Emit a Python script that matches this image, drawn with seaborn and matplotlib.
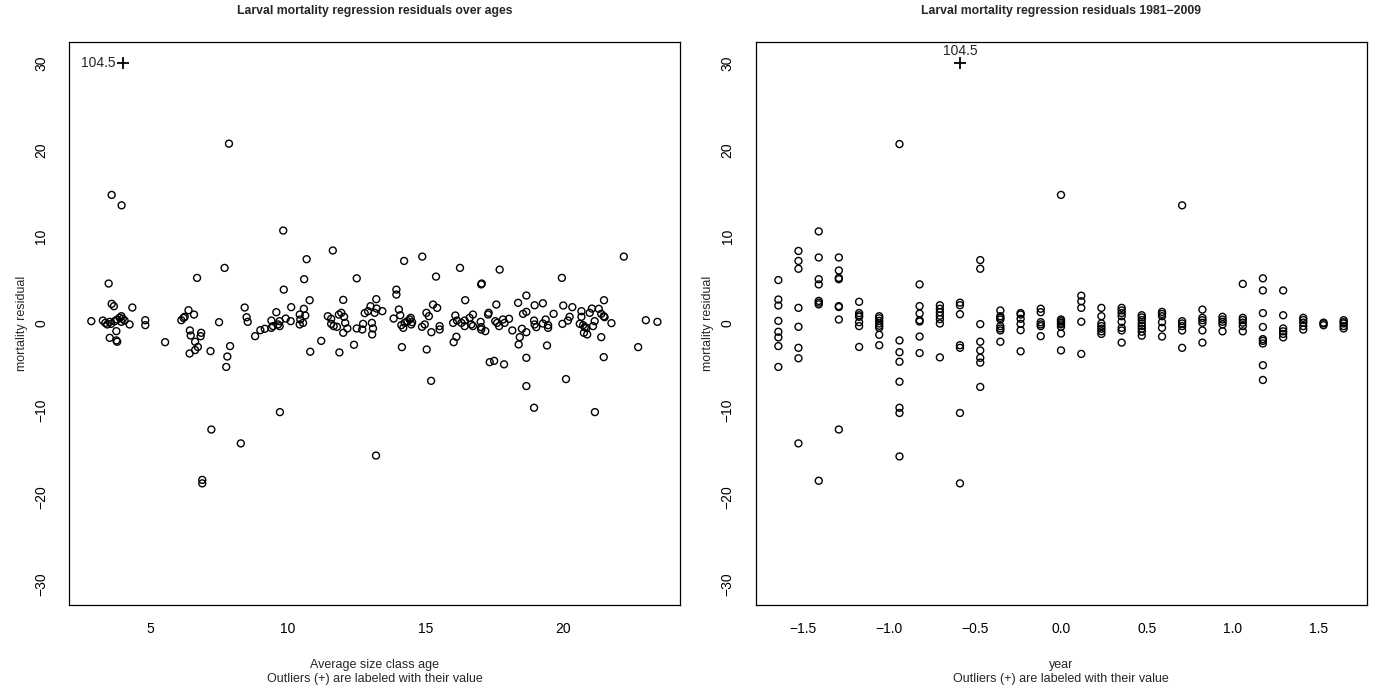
"""Larval mortality regression residuals against age and year."""

import matplotlib

matplotlib.use("Agg")
import matplotlib.pyplot as plt
import pandas as pd
import seaborn as sns

# ---- left panel: residual vs average size class age ----
age_x = [
    7.86, 3.60, 3.96, 9.83, 11.63, 10.68, 7.70, 10.59, 6.70, 12.50, 3.49,
    14.22, 14.88, 16.25, 17.69, 22.20, 15.38, 19.95, 17.04, 17.02,
    9.71, 7.22, 8.29, 6.89, 6.89, 13.20, 15.20, 18.66, 18.94, 20.10, 21.15,
    7.76, 17.85,
    3.60, 3.68, 4.35, 2.86, 3.28, 3.37, 3.44, 3.53, 3.58, 3.71, 3.80, 3.89,
    3.95, 4.00, 4.07, 3.95, 4.25, 3.77, 3.53, 3.77, 3.80,
    4.82, 4.82, 5.54, 6.13, 6.21, 6.25, 6.39, 6.59, 6.44, 6.47, 6.63, 6.85,
    6.83, 6.73, 6.63, 6.43, 7.19, 7.50, 7.90, 7.80, 8.43, 8.50, 8.54, 8.81,
    9.00, 9.16,
    9.85, 13.94, 13.94, 10.79, 12.01, 13.21, 16.44,
    9.58, 9.40, 9.46, 9.40, 9.70, 9.70, 9.64, 9.92, 10.10, 10.12,
    10.43, 10.45, 10.43, 10.55, 10.58, 10.63,
    10.81, 11.21,
    11.45, 11.57, 11.57, 11.66, 11.78, 11.85, 11.94, 12.04, 12.08, 12.16, 12.01,
    11.87, 12.40,
    12.50, 12.70, 12.73, 12.79, 12.91, 13.00, 13.05, 13.09, 13.06, 13.15, 13.22,
    13.43,
    13.84, 14.03, 14.08, 14.12, 14.19, 14.24, 14.34, 14.42, 14.46, 14.48, 14.51,
    14.14,
    14.87, 14.97, 15.03, 15.12, 15.21, 15.27, 15.42, 15.51, 15.51, 15.04,
    16.00, 16.08, 16.14, 16.12, 16.02, 16.30, 16.42, 16.42,
    18.66, 21.48,
    16.60, 16.66, 16.72, 16.72, 17.00, 17.02, 17.17, 17.02, 17.27, 17.29, 17.57,
    17.53, 17.60, 17.67, 17.81, 17.87, 18.03, 18.15,
    18.36, 18.54, 18.66, 18.50, 18.66, 18.42, 18.38, 18.66,
    18.96, 18.94, 18.96, 19.02, 19.26, 19.26, 19.36, 19.45, 19.45, 19.41, 19.65,
    19.97, 20.00, 20.17, 20.23, 20.33, 20.60, 20.66, 20.66, 20.72, 20.78, 20.75,
    20.87, 20.84, 20.96, 21.04, 21.08, 21.14, 21.29, 21.38, 21.47, 21.50, 21.75,
    21.38, 22.72, 23.00, 23.42, 21.47, 17.33, 17.49,
]
age_resid = [
    20.7, 14.8, 13.6, 10.7, 8.4, 7.4, 6.4, 5.1, 5.25, 5.2, 4.6,
    7.2, 7.7, 6.4, 6.2, 7.7, 5.4, 5.25, 4.6, 4.5,
    -10.2, -12.2, -13.8, -18.0, -18.4, -15.2, -6.6, -7.2, -9.7, -6.4, -10.2,
    -5.0, -4.7,
    2.26, 1.99, 1.84, 0.27, 0.34, 0.07, -0.11, 0.19, -0.04, 0.27, 0.46, 0.65,
    0.84, 0.54, 0.34, 0.19, -0.11, -0.88, -1.65, -1.95, -2.1,
    0.38, -0.19, -2.15, 0.38, 0.65, 0.77, 1.53, 1.03, -0.8, -1.38, -2.1, -1.07,
    -1.46, -2.7, -3.06, -3.45, -3.18, 0.15, -2.6, -3.8, 1.84, 0.72, 0.19, -1.46,
    -0.77, -0.61,
    3.9, 3.9, 3.33, 2.68, 2.72, 2.8, 2.68,
    1.3, 0.34, -0.3, -0.5, 0.27, -0.3, -0.11, 0.57, 0.27, 1.88,
    1.03, 0.46, -0.11, 0.07, 1.69, 0.92,
    -3.25, -2.0,
    0.84, 0.54, -0.04, -0.3, -0.38, 1.03, 1.23, 0.77, 0.07, -0.57, -1.07,
    -3.33, -2.45,
    -0.57, -0.69, -0.04, 1.19, 1.42, 1.99, 0.07, -0.57, -1.26, 1.23, 1.72,
    1.42,
    0.57, 1.61, 0.95, -0.19, -0.5, 0.07, 0.27, 0.46, 0.65, -0.11, 0.15,
    -2.72,
    -0.38, -0.11, 1.23, 0.84, -1.0, 2.18, 1.8, -0.3, -0.69, -2.99,
    0.07, 0.92, 0.34, -1.53, -2.15, 0.07, 0.34, -0.3,
    3.22, 2.68,
    0.65, -0.11, 1.03, -0.3, 0.19, -0.42, -0.88, -0.69, 1.03, 1.23, 2.18,
    0.27, 0.07, -0.3, 0.46, 0.07, 0.54, -0.8,
    2.38, 1.11, 1.34, -0.61, -1.0, -1.57, -2.41, -3.95,
    2.1, 0.34, -0.11, -0.42, 2.33, 0.0, 0.46, -0.19, -0.5, -2.53, 1.11,
    -0.04, 2.07, 0.34, 0.77, 1.88, -0.04, 1.42, 0.77, -0.19, -0.42, -1.07,
    -1.26, -0.5, 1.23, 1.72, -0.3, 0.27, 1.69, 1.11, 0.84, 0.73, 0.04,
    -1.57, -2.72, 0.38, 0.19, -3.87, -4.45, -4.3,
]

# ---- right panel: residual vs standardised year (1981-2009) ----
year_pos = [
    -1.645, -1.528, -1.410, -1.293, -1.175, -1.058, -0.940, -0.823, -0.705,
    -0.588, -0.470, -0.353, -0.235, -0.118, 0.000, 0.118, 0.235, 0.353,
    0.470, 0.588, 0.705, 0.823, 0.940, 1.058, 1.175, 1.293, 1.410, 1.528,
    1.645,
]
year_resid = [
    [5.0, 2.76, 2.07, 0.3, -0.95, -1.6, -2.6, -5.0],
    [8.35, 7.2, 6.3, 1.8, -0.38, -2.8, -4.0, -13.8],
    [10.6, 7.6, 5.1, 4.5, 2.6, 2.4, 2.2, -18.1],
    [7.6, 6.1, 5.25, 5.1, 2.0, 1.9, 0.46, -12.2],
    [2.5, 1.2, 0.95, 0.77, 0.15, -0.3, -2.7],
    [0.84, 0.6, 0.3, 0.0, -0.26, -0.5, -1.3, -2.5],
    [20.65, -1.95, -3.3, -4.4, -6.7, -9.7, -10.3, -15.3],
    [4.5, 2.0, 1.15, 0.38, 0.23, -1.5, -3.4],
    [2.1, 1.7, 1.3, 0.9, 0.5, 0.0, -3.9],
    [2.4, 2.1, 1.07, -2.5, -2.8, -10.3, -18.4],
    [7.3, 6.3, -0.07, -2.1, -3.1, -3.95, -4.5, -7.3],
    [1.5, 0.84, 0.65, 0.46, -0.3, -0.57, -0.8, -2.1],
    [1.2, 1.03, 0.54, -0.04, -0.77, -3.2],
    [1.7, 1.3, 0.15, -0.1, -0.3, -1.46],
    [14.8, 0.46, 0.27, 0.08, -0.1, -0.38, -1.15, -3.1],
    [3.2, 2.56, 1.8, 0.2, -3.5],
    [1.8, 0.84, 0.0, -0.3, -0.6, -0.9, -1.2],
    [1.8, 1.5, 1.2, 0.84, 0.2, -0.5, -0.8, -2.2],
    [0.95, 0.7, 0.4, 0.0, -0.3, -0.6, -0.95, -1.4],
    [1.34, 1.1, 0.84, 0.15, -0.5, -1.5],
    [13.6, 0.27, 0.0, -0.3, -0.8, -2.8],
    [1.6, 0.65, 0.38, 0.08, -0.8, -2.2],
    [0.77, 0.46, 0.2, -0.1, -0.9],
    [4.56, 0.65, 0.4, 0.1, -0.3, -0.9],
    [5.2, 3.8, 1.2, -0.4, -1.8, -2.0, -2.3, -4.8, -6.5],
    [3.8, 0.95, -0.57, -0.9, -1.2, -1.6],
    [0.65, 0.4, 0.1, -0.3, -0.7],
    [0.1, 0.0, -0.2],
    [0.38, 0.15, 0.0, -0.3, -0.57],
]

# one residual above the axis limit, drawn as "+" at the cap and labelled
outlier_value = 104.5
outlier_cap = 30
outlier_age = 4.0
outlier_year = -0.588

age_ticks = [5, 10, 15, 20]
year_ticks = [-1.5, -1.0, -0.5, 0.0, 0.5, 1.0, 1.5]
resid_ticks = [-30, -20, -10, 0, 10, 20, 30]

sns.set_style("white")
plt.rcParams["font.family"] = ["Liberation Sans", "DejaVu Sans"]
plt.rcParams["axes.unicode_minus"] = True

age_df = pd.DataFrame({"age": age_x, "resid": age_resid})
year_df = pd.DataFrame(
    {
        "year": [p for p, col in zip(year_pos, year_resid) for _ in col],
        "resid": [r for col in year_resid for r in col],
    }
)

W, H = 1373, 691
fig = plt.figure(figsize=(W / 100, H / 100), dpi=100)
ax_age = fig.add_axes([69 / W, 1 - 605 / H, 611 / W, 563 / H])
ax_year = fig.add_axes([755.5 / W, 1 - 605 / H, 611 / W, 563 / H])


def draw_panel(ax, df, xcol, out_x, title, xlabel, xticks, xlim, label_pos):
    sns.scatterplot(
        data=df, x=xcol, y="resid", ax=ax, marker="o", s=25,
        facecolor="none", edgecolor="black", linewidth=1.0, legend=False,
    )
    ax.collections[-1].set_facecolor("none")
    ax.collections[-1].set_edgecolor("black")
    sns.scatterplot(
        x=[out_x], y=[outlier_cap], ax=ax, marker="+", s=70,
        color="black", linewidth=1.3, legend=False,
    )
    if label_pos == "left":
        ax.annotate(f"{outlier_value}", (out_x, outlier_cap), xytext=(-5, 0),
                    textcoords="offset points", ha="right", va="center",
                    fontsize=10)
    else:
        ax.annotate(f"{outlier_value}", (out_x, outlier_cap), xytext=(0, 3.5),
                    textcoords="offset points", ha="center", va="bottom",
                    fontsize=10)

    ax.set_xlim(*xlim)
    ax.set_ylim(-32.4, 32.4)
    ax.set_xticks(xticks)
    ax.set_yticks(resid_ticks)
    ax.tick_params(axis="both", direction="out", length=5.5, width=0.8,
                   labelsize=10, colors="black")
    ax.tick_params(axis="x", pad=7)
    ax.tick_params(axis="y", pad=9.5)
    plt.setp(ax.get_yticklabels(), rotation=90, va="center", ha="right")
    for side in ax.spines.values():
        side.set_visible(True)
        side.set_color("black")
        side.set_linewidth(0.9)

    ax.set_title(title, fontsize=8.8, fontweight="bold", pad=20)
    ax.set_xlabel(xlabel, fontsize=9, labelpad=16, linespacing=1.3)
    ax.set_ylabel("mortality residual", fontsize=9, labelpad=4.6)


draw_panel(
    ax_age, age_df, "age", outlier_age,
    "Larval mortality regression residuals over ages",
    "Average size class age\nOutliers (+) are labeled with their value",
    age_ticks, (2.05, 24.24), "left",
)
draw_panel(
    ax_year, year_df, "year", outlier_year,
    "Larval mortality regression residuals 1981\u22122009",
    "year\nOutliers (+) are labeled with their value",
    year_ticks, (-1.778, 1.778), "above",
)

fig.savefig("out.png", dpi=100)
plt.close(fig)
